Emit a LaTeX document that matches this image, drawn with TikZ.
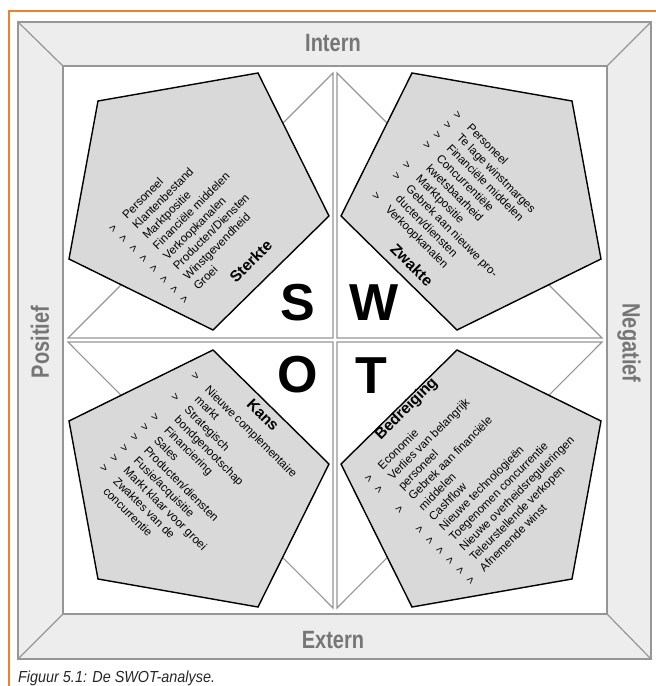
\documentclass[tikz,border=0pt]{standalone}
\usepackage{fontspec}
\setmainfont{Liberation Sans}
\newfontfamily\bandfont[FakeStretch=0.8]{Liberation Sans}
\newfontfamily\captionfont[FakeStretch=0.9]{Liberation Sans}
\usepackage{xcolor}
\definecolor{swotorange}{RGB}{240,128,48}
\definecolor{bandgray}{RGB}{237,237,237}
\definecolor{linegray}{RGB}{150,150,150}
\definecolor{pentgray}{RGB}{217,217,217}
\definecolor{labelgray}{RGB}{118,118,118}
\usepackage{tikz}
\usetikzlibrary{positioning}

\newcommand{\swotmark}{>}

\begin{document}
\begin{tikzpicture}[x=1pt, y=1pt,
	rand/.style={draw=linegray, line width=1.2pt},
	tri/.style={draw=linegray, line width=1.1pt, fill=white},
	pent/.style={draw=black, line width=1.4pt, fill=pentgray, line join=miter},
	band/.style={font=\bandfont\bfseries\fontsize{25}{25}\selectfont, text=labelgray, inner sep=0pt},
	lijst/.style={font=\fontsize{11.6}{14.4}\selectfont, text=black, inner sep=0pt, anchor=base west},
	kop/.style={font=\bfseries\fontsize{15.5}{16}\selectfont, inner sep=0pt, anchor=base west},
	letter/.style={font=\bfseries\fontsize{52}{52}\selectfont, inner sep=0pt}
	]
	\useasboundingbox (-335,340) rectangle (321,-346);
	\draw[swotorange, line width=1.5pt] (321,329) -- (-326,329) -- (-326,-346);

	\fill[bandgray] (-317,318) rectangle (316,-319);
	\fill[white] (-272,274) rectangle (272,-274);
	\draw[rand] (-317,318) rectangle (316,-319);
	\draw[rand] (-272,274) rectangle (272,-274);
	\draw[rand] (-317,318) -- (-272,274);
	\draw[rand] (316,318) -- (272,274);
	\draw[rand] (-317,-319) -- (-272,-274);
	\draw[rand] (316,-319) -- (272,-274);

	\node[band] (intern) at (-2,297) {Intern};
	\node[band] (extern) at (-2,-300) {Extern};
	\node[band, rotate=90] (positief) at (-295,-2) {Positief};
	\node[band, rotate=-90] (negatief) at (294,-3) {Negatief};

	\draw[tri] (-267,2) -- (-2,2) -- (-2,267) -- cycle;
	\draw[tri] (2,267) -- (2,2) -- (267,2) -- cycle;
	\draw[tri] (-267,-2) -- (-2,-2) -- (-2,-268) -- cycle;
	\draw[tri] (2,-2) -- (2,-268) -- (267,-2) -- cycle;

	\draw[pent] (-237,239) -- (-77,267) -- (-6,124) -- (-122,10) -- (-266,81) -- cycle;
	\draw[pent] (237,239) -- (77,267) -- (6,124) -- (122,10) -- (266,81) -- cycle;
	\draw[pent] (-237,-239) -- (-77,-267) -- (-6,-124) -- (-122,-10) -- (-266,-81) -- cycle;
	\draw[pent] (237,-239) -- (77,-267) -- (6,-124) -- (122,-10) -- (266,-81) -- cycle;

	\node[letter] (s) at (-37,37) {S};
	\node[letter, right=34pt of s] (w) {W};
	\node[letter, below=34pt of s] (o) {O};
	\node[letter] (t) at (36,-36) {T};

	\node[lijst, rotate=45] (sterkte) at (-221.7,106.6) {\begin{tabular}[t]{@{}l@{\hspace{12.5pt}}l@{}}
		\swotmark & Personeel\\
		\swotmark & Klantenbestand\\
		\swotmark & Marktpositie\\
		\swotmark & Financiële middelen\\
		\swotmark & Verkoopkanalen\\
		\swotmark & Producten/Diensten\\
		\swotmark & Winstgevendheid\\
		\swotmark & Groei
	\end{tabular}};
	\node[kop, rotate=45] (sterktekop) at (-99,56) {Sterkte};

	\node[lijst, rotate=-45] (zwakte) at (117.6,225.1) {\begin{tabular}[t]{@{}l@{\hspace{12.5pt}}l@{}}
		\swotmark & Personeel\\
		\swotmark & Te lage winstmarges\\
		\swotmark & Financiële middelen\\
		\swotmark & Concurrentiële\\
		 & kwetsbaarheid\\
		\swotmark & Marktpositie\\
		\swotmark & Gebrek aan nieuwe pro-\\
		 & ducten/diensten\\
		\swotmark & Verkoopkanalen
	\end{tabular}};
	\node[kop, rotate=-45] (zwaktekop) at (54.3,90) {Zwakte};

	\node[lijst, rotate=-45] (kans) at (-144.4,-36.6) {\begin{tabular}[t]{@{}l@{\hspace{12.5pt}}l@{}}
		\swotmark & Nieuwe complementaire\\
		 & markt\\
		\swotmark & Strategisch\\
		 & bondgenootschap\\
		\swotmark & Financiering\\
		\swotmark & Sales\\
		\swotmark & Producten/diensten\\
		\swotmark & Fusie/acquisitie\\
		\swotmark & Markt klaar voor groei\\
		\swotmark & Zwaktes van de\\
		 & concurrentie
	\end{tabular}};
	\node[kop, rotate=-45] (kanskop) at (-89.3,-65) {Kans};

	\node[lijst, rotate=45] (bedreiging) at (33.9,-144.1) {\begin{tabular}[t]{@{}l@{\hspace{12.5pt}}l@{}}
		\swotmark & Economie\\
		\swotmark & Verlies van belangrijk\\
		 & personeel\\
		\swotmark & Gebrek aan financiële\\
		 & middelen\\
		\swotmark & Cashflow\\
		\swotmark & Nieuwe technologieën\\
		\swotmark & Toegenomen concurrentie\\
		\swotmark & Nieuwe overheidsreguleringen\\
		\swotmark & Teleurstellende verkopen\\
		\swotmark & Afnemende winst
	\end{tabular}};
	\node[kop, rotate=45] (bedreigingkop) at (45.7,-100.7) {Bedreiging};

	\node[font=\captionfont\itshape\fontsize{16}{16}\selectfont, text=black!85, inner sep=0pt, anchor=base west] (bijschrift) at (-317,-342.5) {Figuur 5.1: De SWOT-analyse.};
\end{tikzpicture}
\end{document}
